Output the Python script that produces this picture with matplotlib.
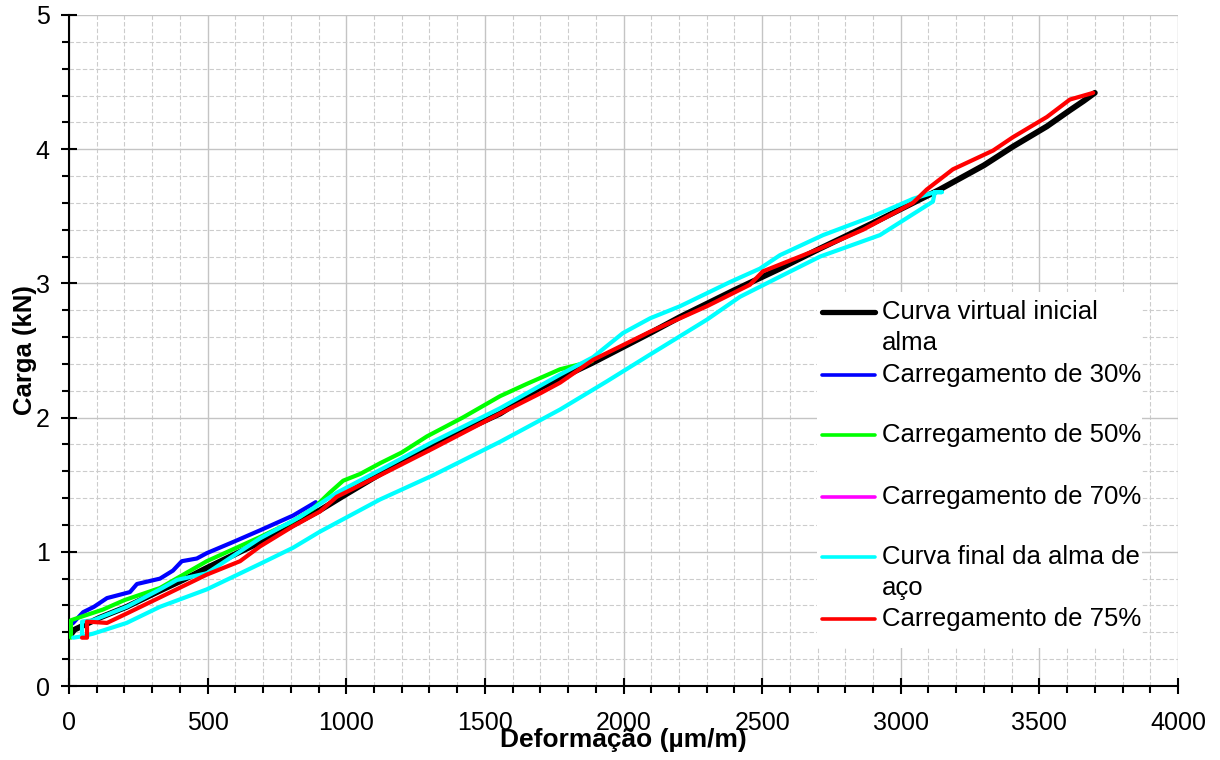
import matplotlib
matplotlib.use("Agg")
import matplotlib.pyplot as plt
from matplotlib.ticker import MultipleLocator
from matplotlib.lines import Line2D
from matplotlib.patches import Rectangle

plt.rcParams['font.family'] = ['Liberation Sans', 'DejaVu Sans']

# ---- data (Deformação µm/m, Carga kN) ----
black_x = [5, 20, 112, 208, 328, 411, 497, 617, 689, 808, 905, 1000, 1122, 1313, 1555,
           1698, 1890, 2096, 2204, 2400, 2564, 2709, 2900, 3141, 3300, 3405, 3527,
           3610, 3660, 3700]
black_y = [0.38, 0.42, 0.51, 0.59, 0.71, 0.79, 0.88, 1.00, 1.07, 1.20, 1.31, 1.43, 1.58,
           1.80, 2.03, 2.22, 2.41, 2.63, 2.75, 2.95, 3.11, 3.26, 3.45, 3.70, 3.88, 4.02,
           4.17, 4.29, 4.36, 4.42]

blue_x = [0, 15, 51, 90, 137, 220, 245, 328, 375, 407, 461, 497, 600, 689, 808, 890]
blue_y = [0.45, 0.47, 0.55, 0.59, 0.655, 0.70, 0.76, 0.80, 0.86, 0.93, 0.95, 0.99,
          1.08, 1.16, 1.27, 1.37]

green_x = [7, 7, 50, 123, 200, 328, 497, 689, 800, 880, 940, 989, 1050, 1122, 1200,
           1291, 1420, 1555, 1650, 1771, 1886]
green_y = [0.36, 0.49, 0.52, 0.57, 0.64, 0.73, 0.93, 1.11, 1.22, 1.32, 1.44, 1.53,
           1.58, 1.66, 1.74, 1.86, 2.00, 2.16, 2.25, 2.36, 2.42]

magenta_x = []
magenta_y = []

cyan_x = [15, 47, 87, 208, 328, 497, 689, 808, 905, 1122, 1313, 1555, 1771, 1940, 2096,
          2301, 2420, 2564, 2709, 2925, 3116, 3123, 3148,
          3123, 3044, 2900, 2720, 2564, 2492, 2384, 2204, 2096, 1998, 1890, 1771, 1555,
          1313, 1122, 966, 833, 689, 497, 389, 328, 208, 87, 47, 47]
cyan_y = [0.36, 0.37, 0.39, 0.47, 0.59, 0.72, 0.91, 1.03, 1.15, 1.39, 1.57, 1.82, 2.06,
          2.27, 2.47, 2.73, 2.90, 3.05, 3.20, 3.36, 3.61, 3.68, 3.68,
          3.68, 3.63, 3.50, 3.36, 3.21, 3.11, 3.01, 2.83, 2.74, 2.63, 2.45, 2.32, 2.07,
          1.82, 1.61, 1.44, 1.26, 1.10, 0.84, 0.79, 0.72, 0.59, 0.49, 0.48, 0.37]

red_x = [47, 65, 65, 137, 208, 328, 497, 617, 689, 808, 905, 966, 1122, 1313, 1555, 1699,
         1771, 1890, 2096, 2301, 2456, 2503, 2709, 2864, 3044, 3094, 3188, 3333, 3405,
         3527, 3610, 3694]
red_y = [0.36, 0.36, 0.48, 0.47, 0.54, 0.66, 0.83, 0.93, 1.04, 1.19, 1.30, 1.41, 1.57,
         1.77, 2.03, 2.18, 2.26, 2.43, 2.64, 2.83, 2.99, 3.09, 3.26, 3.40, 3.60, 3.70,
         3.85, 3.99, 4.09, 4.24, 4.37, 4.42]

labels = ["Curva virtual inicial\nalma", "Carregamento de 30%", "Carregamento de 50%",
          "Carregamento de 70%", "Curva final da alma de\naço", "Carregamento de 75%"]
colors = ["#000000", "#0000ff", "#00ff00", "#ff00ff", "#00ffff", "#ff0000"]

W, H = 1220, 760
fig = plt.figure(figsize=(W / 100, H / 100), dpi=100)
L, R, T, B = 69, 1178, 15, 686
ax = fig.add_axes([L / W, 1 - B / H, (R - L) / W, (B - T) / H])

series = [(black_x, black_y), (blue_x, blue_y), (green_x, green_y),
          (magenta_x, magenta_y), (cyan_x, cyan_y), (red_x, red_y)]
for i, ((xs, ys), c) in enumerate(zip(series, colors)):
    lw = 4.2 if i == 0 else 3.0
    ax.plot(xs, ys, color=c, lw=lw, solid_joinstyle='round', solid_capstyle='round',
            zorder=3 + i)

ax.set_xlim(0, 4000)
ax.set_ylim(0, 5)
ax.xaxis.set_major_locator(MultipleLocator(500))
ax.xaxis.set_minor_locator(MultipleLocator(100))
ax.yaxis.set_major_locator(MultipleLocator(1))
ax.yaxis.set_minor_locator(MultipleLocator(0.2))
ax.grid(which='major', color='#c4c4c4', lw=1.0, ls='-')
ax.grid(which='minor', color='#cccccc', lw=0.8, ls=(0, (4, 2)))
ax.set_axisbelow(True)

for s in ['top', 'right']:
    ax.spines[s].set_visible(False)
for s in ['left', 'bottom']:
    ax.spines[s].set_linewidth(1.5)

ax.tick_params(which='major', direction='inout', length=12, width=1.5, labelsize=18,
               colors='black')
ax.tick_params(which='minor', direction='out', length=5, width=1.5)
ax.tick_params(axis='x', which='major', pad=12)
ax.tick_params(axis='y', which='major', pad=8)

ax.set_xlabel("Deformação (µm/m)", fontsize=19, fontweight='bold', va='center')
ax.xaxis.set_label_coords(0.5, (B - 740) / (B - T))
ax.set_ylabel("Carga (kN)", fontsize=18.5, fontweight='bold', va='center')
ax.yaxis.set_label_coords((25 - L) / (R - L), 0.5)

# ---- legend (drawn manually to match layout) ----
def fx(px):
    return px / W

def fy(py):
    return 1 - py / H

fig.add_artist(Rectangle((fx(817), fy(648)), fx(1142) - fx(817), fy(292) - fy(648),
                         facecolor='white', edgecolor='none', zorder=5))
handle_y = [311.7, 375, 435, 497, 557, 619]
text_base = [319, 382, 442, 504, 564, 626]
for i, (lab, c) in enumerate(zip(labels, colors)):
    lw = 3.8 if i == 0 else 2.6
    fig.add_artist(Line2D([fx(822), fx(875)], [fy(handle_y[i])] * 2, color=c, lw=lw,
                          solid_capstyle='round', zorder=6))
    lines = lab.split("\n")
    for j, ln in enumerate(lines):
        fig.text(fx(882), fy(text_base[i] + 30.5 * j), ln, fontsize=18.5, va='baseline',
                 ha='left', zorder=7)

fig.savefig("out.png", dpi=100)
